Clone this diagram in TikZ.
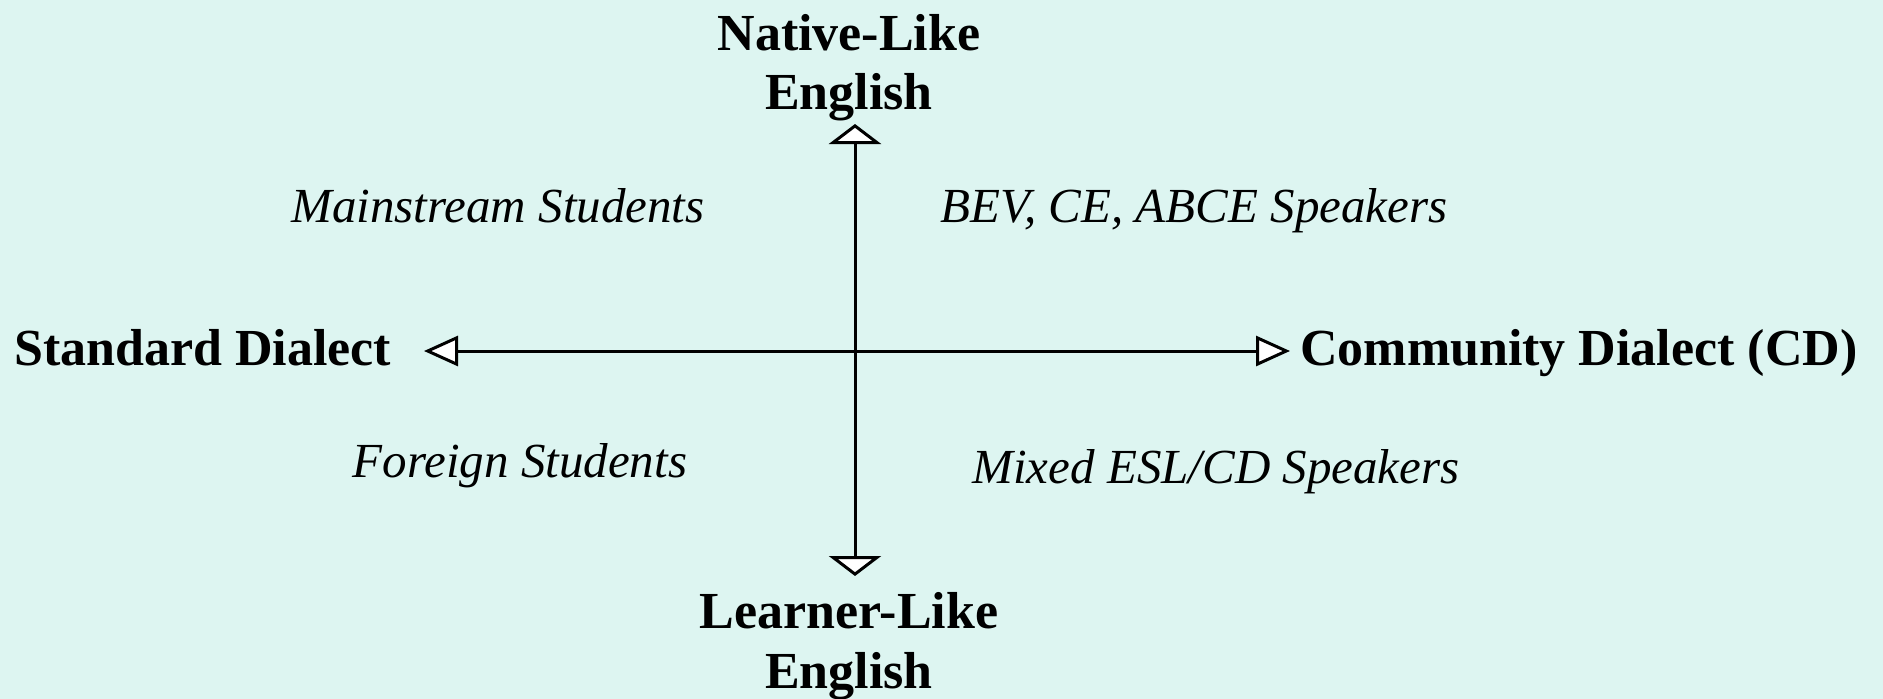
\documentclass[tikz,border=0pt]{standalone}
\usepackage{fontspec}
\setmainfont{Liberation Serif}
\usetikzlibrary{arrows.meta}
\definecolor{bg}{RGB}{221,245,241}
\tikzset{
  vtip/.style={line width=3pt, -{Triangle[fill=white, length=20pt, width=52pt]}},
  htip/.style={line width=3pt, -{Triangle[fill=white, length=34pt, width=30pt]}},
  bold/.style={font=\fontsize{52}{59}\selectfont\bfseries, inner sep=0pt, anchor=base, align=center},
  ital/.style={font=\fontsize{49}{56}\selectfont\itshape, inner sep=0pt, anchor=base},
}
\begin{document}
\begin{tikzpicture}[x=1pt,y=-1pt]
\fill[bg] (0,0) rectangle (1883,699);
\useasboundingbox (0,0) rectangle (1883,699);
\coordinate (c) at (855,351);
\coordinate (top) at (855,124);
\coordinate (bot) at (855,576);
\coordinate (lft) at (424,351);
\coordinate (rgt) at (1290,351);
\draw[vtip] (c) -- (top);
\draw[vtip] (c) -- (bot);
\draw[htip] (c) -- (lft);
\draw[htip] (c) -- (rgt);
\node[bold] (nl1) at (849,50) {Native-Like};
\node[bold] (nl2) at (849,109) {English};
\node[bold] (ll1) at (849,628) {Learner-Like};
\node[bold] (ll2) at (849,688) {English};
\node[bold, anchor=base west] (sd) at (14,365) {Standard Dialect};
\node[bold, anchor=base west] (cd) at (1300,365) {Community Dialect (CD)};
\node[ital] (ms) at (498,222) {Mainstream Students};
\node[ital] (bev) at (1194,222) {BEV, CE, ABCE Speakers};
\node[ital] (fs) at (520,477) {Foreign Students};
\node[ital] (mx) at (1216,483) {Mixed ESL/CD Speakers};
\end{tikzpicture}
\end{document}
